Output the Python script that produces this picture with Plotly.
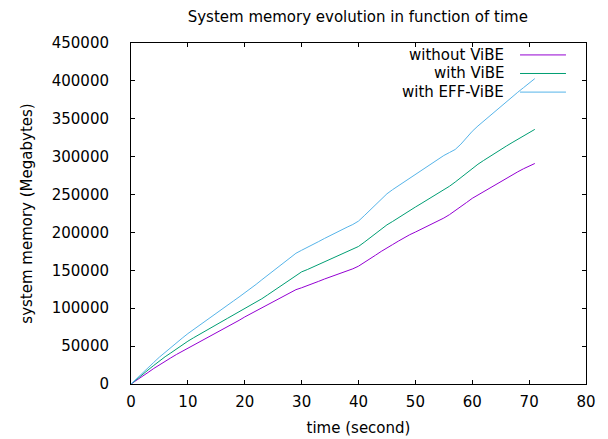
import plotly.graph_objects as go

time_s = list(range(0, 72))

without_vibe = [
    0, 4800, 10000, 15200, 20500, 25500, 30000, 34500, 39000, 43000,
    47500, 51500, 55500, 59500, 63500, 67500, 71500, 75500, 79800, 84000,
    88500, 92500, 96500, 100500, 104500, 108500, 112800, 117000, 121000, 124500,
    127000, 129500, 132500, 135500, 138500, 141000, 144000, 147000, 149500, 152000,
    155500, 160000, 165000, 170000, 175000, 180000, 184000, 188500, 193000, 197000,
    200500, 204000, 207500, 211000, 215000, 219000, 223500, 228500, 234000, 239500,
    245000, 249500, 254000, 258500, 263000, 267000, 271500, 276000, 280000, 284000,
    287500, 291000,
]

with_vibe = [
    0, 5800, 12000, 18500, 24500, 30500, 36000, 41000, 46500, 51500,
    56500, 61000, 65500, 69800, 74000, 78000, 82500, 86800, 91000, 95000,
    99000, 103500, 108000, 112500, 117500, 122500, 127500, 132500, 137500, 143000,
    148000, 151000, 154500, 158000, 161500, 165000, 168500, 171800, 175000, 178000,
    181500, 187000, 193000, 199000, 204500, 210000, 214500, 219500, 224000, 229000,
    233500, 238000, 242500, 247000, 251500, 256000, 261000, 266500, 272500, 279000,
    285000, 290000, 295000, 300000, 304500, 309000, 314000, 318500, 323000, 327500,
    332000, 336000,
]

with_eff_vibe = [
    0, 6800, 14000, 21500, 28500, 35500, 42000, 48500, 54500, 60500,
    66500, 72000, 77500, 82800, 88500, 93500, 98800, 104000, 109500, 114800,
    120000, 125800, 131500, 137500, 143500, 149500, 155500, 161500, 167500, 172500,
    176500, 180000, 184000, 188000, 192000, 196000, 199800, 203500, 207000, 210500,
    215000, 222000, 229500, 237000, 244000, 251000, 256500, 261500, 266500, 271500,
    277000, 282000, 287000, 292000, 297000, 301500, 305500, 309500, 316500, 325000,
    333500, 340500, 347000, 353500, 360000, 366500, 373000, 379000, 385000, 391000,
    397000, 403000,
]

series_names = ["without ViBE", "with ViBE", "with EFF-ViBE"]
series_colors = ["#9400d3", "#009e73", "#56b4e9"]
x_ticks = [0, 10, 20, 30, 40, 50, 60, 70, 80]
y_ticks = [0, 50000, 100000, 150000, 200000, 250000, 300000, 350000, 400000, 450000]

FONT = "DejaVu Sans"
fig = go.Figure()
for name, ys, col in zip(series_names, [without_vibe, with_vibe, with_eff_vibe], series_colors):
    fig.add_trace(go.Scatter(x=time_s, y=ys, mode="lines", name=name,
                             line=dict(color=col, width=1), showlegend=False))

# gnuplot-style key: right-aligned text with sample line on the right
row_y = [0.965, 0.9106, 0.856]
for name, col, yy in zip(series_names, series_colors, row_y):
    fig.add_annotation(xref="paper", yref="paper", x=0.824, y=yy, text=name,
                       showarrow=False, xanchor="right", yanchor="middle",
                       font=dict(family=FONT, size=15, color="#000000"))
    fig.add_shape(type="line", xref="paper", yref="paper", x0=0.855, x1=0.956,
                  y0=yy, y1=yy, line=dict(color=col, width=1))

# page body adds an 8px offset, so the figure is 8px smaller than the window
fig.update_layout(
    width=600, height=431,
    margin=dict(l=123, r=22, t=35, b=55, autoexpand=False),
    paper_bgcolor="white", plot_bgcolor="white",
    font=dict(family=FONT, size=15, color="#000000"),
    title=dict(text="System memory evolution in function of time", x=0.583, xanchor="center",
               y=0.979, yanchor="middle", font=dict(family=FONT, size=15, color="#000000")),
    xaxis=dict(range=[0, 80], tickvals=x_ticks, ticktext=[str(v) for v in x_ticks],
               ticks="inside", ticklen=4, tickcolor="#000000", showline=True, linecolor="#000000",
               linewidth=1, mirror="ticks", showgrid=False, zeroline=False, automargin=False,
               ticklabelstandoff=4,
               title=dict(text="time (second)", standoff=12, font=dict(family=FONT, size=15))),
    yaxis=dict(range=[0, 450000], tickvals=y_ticks, ticktext=[str(v) for v in y_ticks],
               ticks="inside", ticklen=4, tickcolor="#000000", showline=True, linecolor="#000000",
               linewidth=1, mirror="ticks", showgrid=False, zeroline=False, automargin=False,
               ticklabelstandoff=18,
               title=dict(text="system memory (Megabytes)", standoff=15, font=dict(family=FONT, size=15))),
)

fig.write_html("out.html")
